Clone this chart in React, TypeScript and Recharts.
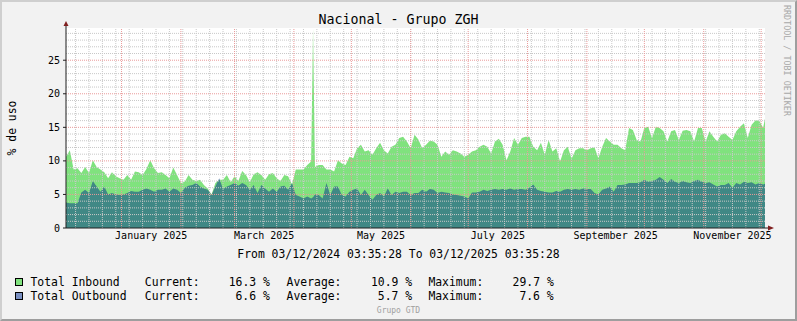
import React from 'react';
import {
  ComposedChart,
  Area,
  XAxis,
  YAxis,
  CartesianGrid,
  ReferenceLine,
  ReferenceDot,
} from 'recharts';

// day 0 = 03/12/2024 03:35, one sample every 2 days
const days = Array.from({ length: 183 }, (_, i) => i * 2);

const inbound = [
  10.6, 11.6, 8.7, 8.9, 8.2, 9.1, 8.2, 10.1, 9.1, 8.7,
  8.3, 7.4, 8.3, 7.7, 7.4, 7.2, 7.9, 7.2, 8.4, 8.3,
  7.9, 8.8, 10.1, 8.9, 8.2, 8.3, 7.9, 7.4, 9.0, 7.9,
  6.7, 6.9, 7.9, 7.2, 7.0, 7.2, 6.4, 5.9, 5.0, 6.7,
  7.2, 7.2, 7.9, 6.8, 7.7, 7.0, 8.5, 7.9, 6.8, 8.0,
  8.3, 7.9, 7.2, 8.0, 8.2, 7.4, 7.0, 7.9, 7.7, 6.5,
  8.7, 8.7, 8.7, 9.4, 9.9, 9.1, 9.4, 9.4, 8.7, 8.7,
  8.4, 10.1, 9.6, 9.4, 10.6, 10.4, 11.9, 12.4, 11.4, 11.6,
  10.9, 11.9, 12.7, 11.6, 11.1, 12.1, 12.4, 13.4, 13.6, 12.9,
  11.9, 13.9, 13.2, 11.9, 12.4, 13.0, 12.9, 12.4, 10.6, 11.4,
  10.9, 11.6, 11.4, 11.1, 10.6, 10.9, 11.4, 11.6, 12.1, 12.4,
  12.1, 11.1, 12.9, 13.3, 12.4, 10.1, 11.4, 13.4, 12.4, 13.4,
  13.6, 13.6, 12.1, 11.6, 12.7, 10.9, 13.1, 11.4, 11.9, 9.9,
  11.6, 12.1, 10.3, 11.6, 11.9, 11.9, 11.6, 11.9, 12.0, 10.4,
  12.1, 13.4, 12.9, 12.4, 12.4, 11.9, 11.6, 14.9, 14.6, 13.1,
  12.9, 14.9, 15.1, 13.4, 15.1, 14.9, 14.4, 12.9, 14.4, 14.6,
  13.1, 14.5, 14.6, 14.4, 12.9, 14.9, 14.9, 12.9, 14.4, 13.6,
  12.9, 13.9, 14.1, 13.6, 13.1, 14.4, 15.1, 15.6, 13.4, 15.4,
  16.0, 16.0, 14.9,
];

const outbound = [
  3.8, 3.7, 3.7, 3.7, 5.3, 5.7, 5.2, 7.0, 6.2, 5.4,
  6.2, 5.0, 5.2, 5.0, 4.9, 5.0, 5.2, 5.5, 5.4, 5.4,
  5.7, 5.9, 5.7, 5.4, 5.7, 5.7, 5.9, 5.4, 5.9, 5.7,
  5.2, 6.0, 6.3, 6.4, 6.7, 6.2, 5.9, 5.7, 4.9, 6.2,
  7.4, 5.8, 6.2, 6.4, 6.7, 6.3, 6.7, 6.4, 5.7, 6.4,
  5.2, 6.4, 5.9, 5.4, 5.9, 5.4, 6.2, 6.3, 5.7, 6.7,
  4.9, 4.7, 4.4, 4.7, 4.4, 5.0, 4.9, 4.4, 6.7, 4.9,
  6.2, 6.2, 4.9, 4.7, 5.4, 5.7, 5.9, 4.9, 5.7, 4.9,
  4.2, 4.9, 5.2, 4.7, 5.9, 4.9, 5.4, 5.2, 5.4, 5.4,
  4.9, 5.2, 5.2, 5.7, 5.4, 5.8, 5.7, 5.2, 5.4, 5.3,
  5.2, 5.0, 4.9, 4.8, 4.7, 4.4, 5.3, 5.3, 5.4, 5.7,
  5.5, 5.7, 5.8, 5.7, 5.8, 5.7, 5.9, 5.7, 5.8, 5.8,
  5.7, 6.0, 6.5, 5.7, 5.5, 5.4, 5.3, 5.3, 5.5, 5.4,
  5.7, 5.8, 5.7, 5.8, 5.7, 5.9, 5.8, 5.8, 5.2, 5.0,
  5.7, 5.9, 6.2, 5.4, 6.4, 6.4, 6.5, 6.7, 6.7, 6.7,
  6.8, 7.2, 6.9, 7.0, 7.2, 7.6, 7.2, 6.7, 7.3, 6.9,
  6.7, 7.0, 6.8, 6.7, 7.0, 7.2, 6.9, 6.7, 6.8, 6.5,
  6.2, 6.4, 6.4, 6.7, 6.0, 6.7, 6.5, 6.9, 6.7, 6.8,
  6.5, 6.7, 6.5,
];

// the April spike and the last sample
const extraDays = [129, 365];
const extraInbound = [29.7, 16.3];
const extraOutbound = [4.6, 6.6];

const monthStarts = [29, 60, 88, 119, 149, 180, 210, 241, 272, 302, 333, 363];
const weekStarts = Array.from({ length: 52 }, (_, i) => 5 + i * 7);
const labelTicks = [44.5, 103.5, 164.5, 225.5, 287, 348];
const labelNames = ['January 2025', 'March 2025', 'May 2025', 'July 2025', 'September 2025', 'November 2025'];
const yTicks = [0, 5, 10, 15, 20, 25];
const yMinor = Array.from({ length: 29 }, (_, i) => i + 1).filter((v) => v % 5 !== 0);
const yMajor = [5, 10, 15, 20, 25];

const data = [
  ...days.map((d, i) => ({ day: d, inbound: inbound[i], outbound: outbound[i] })),
  ...extraDays.map((d, i) => ({ day: d, inbound: extraInbound[i], outbound: extraOutbound[i] })),
].sort((a, b) => a.day - b.day);

const MONO = '"DejaVu Sans Mono", monospace';
const GREEN = '#80E27E';
const BLUE = '#002E8C';
const MINOR = '#c8c8c8';
const MAJOR = '#ea9a9a';
const ARROW = '#801f1f';
const AXIS = '#1f1f1f';

const YArrow = ({ cx, cy }: { cx?: number; cy?: number }) => {
  const x = cx ?? 0;
  const y = cy ?? 0;
  return (
    <g>
      <line x1={x} y1={y} x2={x} y2={y - 2} stroke={AXIS} />
      <path d={`M${x - 2.5},${y - 2} L${x + 2.5},${y - 2} L${x},${y - 7} Z`} fill={ARROW} />
    </g>
  );
};

const XArrow = ({ cx, cy }: { cx?: number; cy?: number }) => {
  const x = cx ?? 0;
  const y = cy ?? 0;
  return (
    <g>
      <line x1={x} y1={y} x2={x + 3} y2={y} stroke={AXIS} />
      <path d={`M${x + 3},${y - 2.5} L${x + 3},${y + 2.5} L${x + 9},${y} Z`} fill={ARROW} />
    </g>
  );
};

export default function App() {
  return (
    <div style={{ position: 'absolute', left: 0, top: 0, width: 797, height: 321, background: '#F2F2F2' }}>
      <ComposedChart
        width={797}
        height={321}
        data={data}
        margin={{ top: 28, right: 32, left: 0, bottom: 73 }}
        style={{ position: 'absolute', left: 0, top: 0 }}
      >
        <CartesianGrid horizontal={false} vertical={false} fill="#ffffff" />
        <XAxis
          type="number"
          dataKey="day"
          domain={[0, 365]}
          ticks={labelTicks}
          interval={0}
          tickFormatter={(v: number) => labelNames[labelTicks.indexOf(v)] ?? ''}
          tickLine={false}
          tickSize={0}
          tickMargin={4}
          height={20}
          axisLine={{ stroke: AXIS }}
          tick={{ fontSize: 10, fontFamily: MONO, fill: '#000' }}
        />
        <YAxis
          domain={[0, 29.8]}
          ticks={yTicks}
          width={66}
          tickSize={3}
          tickMargin={3}
          axisLine={{ stroke: AXIS }}
          tickLine={{ stroke: AXIS }}
          tick={{ fontSize: 10, fontFamily: MONO, fill: '#000' }}
        />
        <Area
          type="linear"
          dataKey="inbound"
          stroke="none"
          fill={GREEN}
          fillOpacity={1}
          dot={false}
          activeDot={false}
          isAnimationActive={false}
        />
        <Area
          type="linear"
          dataKey="outbound"
          stroke="none"
          fill={BLUE}
          fillOpacity={0.5}
          dot={false}
          activeDot={false}
          isAnimationActive={false}
        />
        {yMinor.map((v) => (
          <ReferenceLine key={`ym${v}`} y={v} stroke={MINOR} strokeDasharray="1 1" />
        ))}
        {weekStarts.map((d) => (
          <ReferenceLine key={`w${d}`} x={d} stroke={MINOR} strokeDasharray="1 1" />
        ))}
        {yMajor.map((v) => (
          <ReferenceLine key={`yM${v}`} y={v} stroke={MAJOR} strokeDasharray="1 1" />
        ))}
        {monthStarts.map((d) => (
          <ReferenceLine key={`m${d}`} x={d} stroke={MAJOR} strokeDasharray="1 1" />
        ))}
        <ReferenceDot x={0} y={29.8} r={0} ifOverflow="visible" shape={(p: any) => <YArrow cx={p.cx} cy={p.cy} />} />
        <ReferenceDot x={365} y={0} r={0} ifOverflow="visible" shape={(p: any) => <XArrow cx={p.cx} cy={p.cy} />} />
      </ComposedChart>

      <svg width={797} height={321} style={{ position: 'absolute', left: 0, top: 0, pointerEvents: 'none' }}>
        <text x={398.5} y={24} textAnchor="middle" fontFamily={MONO} fontSize={13.3} fill="#000">
          Nacional - Grupo ZGH
        </text>
        <text
          x={15.5}
          y={128}
          textAnchor="middle"
          fontFamily={MONO}
          fontSize={11.4}
          fill="#000"
          transform="rotate(-90 15.5 128)"
        >
          % de uso
        </text>
        <text
          x={784}
          y={5}
          textAnchor="start"
          fontFamily={MONO}
          fontSize={8.4}
          fill="#a8a8a8"
          transform="rotate(90 784 5)"
        >
          RRDTOOL / TOBI OETIKER
        </text>
        <text x={398.5} y={258} textAnchor="middle" fontFamily={MONO} fontSize={11.4} fill="#000">
          From 03/12/2024 03:35:28 To 03/12/2025 03:35:28
        </text>

        <rect x={15.5} y={278.5} width={7} height={7} fill={GREEN} stroke="#000" />
        <rect x={15.5} y={292.5} width={7} height={7} fill="#7a90c2" stroke="#000" />
        <g fontFamily={MONO} fontSize={11.4} fill="#000" style={{ whiteSpace: 'pre' }}>
          <text x={30.5} y={286}>Total Inbound</text>
          <text x={144.8} y={286}>Current:</text>
          <text x={228.7} y={286}>16.3 %</text>
          <text x={286.6} y={286}>Average:</text>
          <text x={371} y={286}>10.9 %</text>
          <text x={428.4} y={286}>Maximum:</text>
          <text x={512.6} y={286}>29.7 %</text>

          <text x={30.5} y={300}>Total Outbound</text>
          <text x={144.8} y={300}>Current:</text>
          <text x={235.5} y={300}>6.6 %</text>
          <text x={286.6} y={300}>Average:</text>
          <text x={377.8} y={300}>5.7 %</text>
          <text x={428.4} y={300}>Maximum:</text>
          <text x={519.4} y={300}>7.6 %</text>
        </g>
        <text x={398.5} y={313} textAnchor="middle" fontFamily={MONO} fontSize={8} fill="#a0a0a0">
          Grupo GTD
        </text>
      </svg>

      <div
        style={{
          position: 'absolute',
          left: 0,
          top: 0,
          width: 797,
          height: 321,
          boxSizing: 'border-box',
          borderTop: '2px solid #CFCFCF',
          borderLeft: '2px solid #CFCFCF',
          borderRight: '2px solid #9E9E9E',
          borderBottom: '2px solid #9E9E9E',
          pointerEvents: 'none',
        }}
      />
    </div>
  );
}
